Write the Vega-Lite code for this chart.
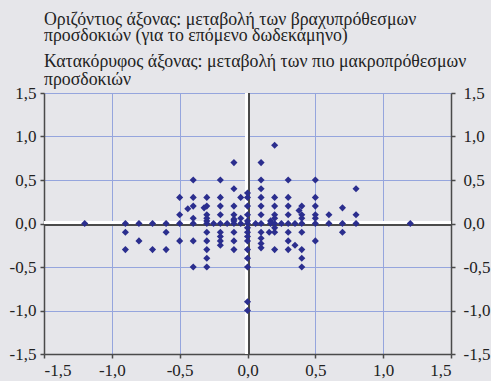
{
  "$schema": "https://vega.github.io/schema/vega-lite/v6.json",
  "width": 407,
  "height": 261,
  "autosize": "none",
  "padding": {"left": 44, "top": 93, "right": 40, "bottom": 27},
  "background": "#E6E6EA",
  "config": {
    "view": {"stroke": null, "fill": "#E6E6EA"},
    "locale": {"number": {"decimal": ",", "thousands": ".", "grouping": [3], "currency": ["", " €"], "minus": "-"}},
    "axis": {
      "labelFont": "Liberation Serif",
      "labelFontSize": 17,
      "labelColor": "#222222",
      "domainColor": "#4A4A4A",
      "domainWidth": 1.5,
      "tickColor": "#4A4A4A",
      "tickWidth": 1.5,
      "tickSize": 4,
      "gridColor": "#95A5DD",
      "gridWidth": 1,
      "gridOpacity": 1,
      "title": null
    }
  },
  "title": {
    "text": ["Οριζόντιος άξονας: μεταβολή των βραχυπρόθεσμων", "προσδοκιών (για το επόμενο δωδεκάμηνο)"],
    "subtitle": ["Κατακόρυφος άξονας: μεταβολή των πιο μακροπρόθεσμων", "προσδοκιών"],
    "anchor": "start",
    "frame": "group",
    "font": "Liberation Serif",
    "fontSize": 17.8,
    "fontWeight": "normal",
    "color": "#222222",
    "lineHeight": 16.5,
    "subtitleFont": "Liberation Serif",
    "subtitleFontSize": 17.8,
    "subtitleColor": "#222222",
    "subtitleLineHeight": 18,
    "subtitlePadding": 8,
    "offset": -5
  },
  "data": {
    "values": [
      {"x": -1.2, "y": 0}, {"x": -0.9, "y": 0}, {"x": -0.8, "y": 0}, {"x": -0.7, "y": 0}, {"x": -0.6, "y": 0},
      {"x": -0.5, "y": 0}, {"x": -0.4, "y": 0}, {"x": -0.3, "y": 0}, {"x": -0.25, "y": 0}, {"x": -0.2, "y": 0},
      {"x": -0.15, "y": 0}, {"x": -0.1, "y": 0}, {"x": -0.05, "y": 0}, {"x": 0, "y": 0}, {"x": 0.06, "y": 0},
      {"x": 0.1, "y": 0}, {"x": 0.17, "y": 0}, {"x": 0.2, "y": 0}, {"x": 0.25, "y": 0}, {"x": 0.3, "y": 0},
      {"x": 0.35, "y": 0}, {"x": 0.4, "y": 0}, {"x": 0.5, "y": 0}, {"x": 0.6, "y": 0}, {"x": 0.7, "y": 0},
      {"x": 0.8, "y": 0}, {"x": 1.2, "y": 0},
      {"x": 0, "y": 0.03}, {"x": 0, "y": -0.05}, {"x": -0.1, "y": 0.03}, {"x": 0.17, "y": 0.03}, {"x": -0.3, "y": 0.03},
      {"x": -0.9, "y": -0.1}, {"x": -0.6, "y": -0.1}, {"x": -0.3, "y": -0.1}, {"x": -0.2, "y": -0.1}, {"x": -0.1, "y": -0.1},
      {"x": 0, "y": -0.1}, {"x": 0.1, "y": -0.1}, {"x": 0.16, "y": -0.1}, {"x": 0.2, "y": -0.1}, {"x": 0.2, "y": -0.05},
      {"x": 0.3, "y": -0.1}, {"x": 0.4, "y": -0.1}, {"x": 0.7, "y": -0.1},
      {"x": -0.2, "y": -0.15}, {"x": 0, "y": -0.15}, {"x": 0.1, "y": -0.17},
      {"x": -0.8, "y": -0.2}, {"x": -0.5, "y": -0.2}, {"x": -0.4, "y": -0.2}, {"x": -0.3, "y": -0.2}, {"x": -0.2, "y": -0.2},
      {"x": -0.1, "y": -0.2}, {"x": 0, "y": -0.2}, {"x": 0.1, "y": -0.23}, {"x": 0.3, "y": -0.2}, {"x": 0.5, "y": -0.2},
      {"x": -0.2, "y": -0.25}, {"x": 0.1, "y": -0.28}, {"x": 0.35, "y": -0.25},
      {"x": -0.9, "y": -0.3}, {"x": -0.7, "y": -0.3}, {"x": -0.6, "y": -0.3}, {"x": -0.3, "y": -0.3}, {"x": -0.1, "y": -0.3},
      {"x": 0, "y": -0.3}, {"x": 0.2, "y": -0.3}, {"x": 0.3, "y": -0.3}, {"x": 0.4, "y": -0.3},
      {"x": -0.3, "y": -0.4}, {"x": 0, "y": -0.4}, {"x": 0.4, "y": -0.4},
      {"x": -0.4, "y": -0.5}, {"x": -0.3, "y": -0.5}, {"x": 0, "y": -0.5}, {"x": 0.4, "y": -0.5},
      {"x": 0, "y": -0.9}, {"x": 0, "y": -1.0},
      {"x": 0.2, "y": 0.9}, {"x": -0.1, "y": 0.7}, {"x": 0.1, "y": 0.7},
      {"x": -0.4, "y": 0.5}, {"x": -0.2, "y": 0.5}, {"x": 0.1, "y": 0.5}, {"x": 0.3, "y": 0.5}, {"x": 0.5, "y": 0.5},
      {"x": -0.1, "y": 0.4}, {"x": 0.1, "y": 0.4}, {"x": 0.8, "y": 0.4}, {"x": 0, "y": 0.35},
      {"x": -0.5, "y": 0.3}, {"x": -0.4, "y": 0.3}, {"x": -0.3, "y": 0.3}, {"x": -0.2, "y": 0.3}, {"x": -0.05, "y": 0.3},
      {"x": 0, "y": 0.3}, {"x": 0.1, "y": 0.3}, {"x": 0.2, "y": 0.3}, {"x": 0.3, "y": 0.3}, {"x": 0.5, "y": 0.3},
      {"x": -0.4, "y": 0.2}, {"x": -0.3, "y": 0.2}, {"x": -0.2, "y": 0.2}, {"x": -0.1, "y": 0.2}, {"x": 0, "y": 0.2},
      {"x": 0.1, "y": 0.2}, {"x": 0.2, "y": 0.2}, {"x": 0.3, "y": 0.2}, {"x": 0.4, "y": 0.2}, {"x": 0.5, "y": 0.2},
      {"x": -0.44, "y": 0.17}, {"x": -0.32, "y": 0.18}, {"x": 0.7, "y": 0.18}, {"x": 0.38, "y": 0.15},
      {"x": -0.5, "y": 0.1}, {"x": -0.3, "y": 0.1}, {"x": -0.2, "y": 0.1}, {"x": -0.1, "y": 0.1}, {"x": 0, "y": 0.1},
      {"x": 0.1, "y": 0.1}, {"x": 0.2, "y": 0.1}, {"x": 0.3, "y": 0.1}, {"x": 0.4, "y": 0.1}, {"x": 0.5, "y": 0.1},
      {"x": 0.6, "y": 0.1}, {"x": 0.8, "y": 0.1},
      {"x": -0.4, "y": 0.06}, {"x": -0.3, "y": 0.06}, {"x": -0.05, "y": 0.06}, {"x": 0.2, "y": 0.06}, {"x": 0.4, "y": 0.06},
      {"x": 0.5, "y": 0.06}, {"x": -0.1, "y": 0.05}
    ]
  },
  "resolve": {"axis": {"y": "independent"}},
  "layer": [
    {
      "mark": {"type": "rule", "color": "#4A4A4A", "strokeWidth": 1.5, "yOffset": 1.2},
      "encoding": {
        "y": {"datum": 0, "type": "quantitative", "scale": {"domain": [-1.5, 1.5], "nice": false, "zero": false},
          "axis": {"orient": "left", "values": [-1.5, -1, -0.5, 0, 0.5, 1, 1.5], "format": ".1f", "grid": true, "labelPadding": 4}}
      }
    },
    {
      "mark": {"type": "rule", "color": "#FFFFFF", "strokeWidth": 2.5, "yOffset": -0.8},
      "encoding": {
        "y": {"datum": 0, "type": "quantitative", "scale": {"domain": [-1.5, 1.5], "nice": false, "zero": false},
          "axis": {"orient": "right", "values": [-1.5, -1, -0.5, 0, 0.5, 1, 1.5], "format": ".1f", "grid": false, "labelPadding": 8}}
      }
    },
    {
      "mark": {"type": "rule", "color": "#4A4A4A", "strokeWidth": 1.5, "xOffset": 1.2},
      "encoding": {
        "x": {"datum": 0, "type": "quantitative", "scale": {"domain": [-1.5, 1.5], "nice": false, "zero": false}}
      }
    },
    {
      "mark": {"type": "rule", "color": "#FFFFFF", "strokeWidth": 2.5, "xOffset": -0.8},
      "encoding": {
        "x": {"datum": 0, "type": "quantitative", "scale": {"domain": [-1.5, 1.5], "nice": false, "zero": false}}
      }
    },
    {
      "mark": {"type": "point", "shape": "diamond", "filled": true, "color": "#2B2E8E", "size": 50, "opacity": 1},
      "encoding": {
        "x": {"field": "x", "type": "quantitative", "scale": {"domain": [-1.5, 1.5], "nice": false, "zero": false},
          "axis": {"orient": "bottom", "values": [-1.5, -1, -0.5, 0, 0.5, 1, 1.5], "format": ".1f", "grid": true, "labelPadding": 4}},
        "y": {"field": "y", "type": "quantitative", "scale": {"domain": [-1.5, 1.5], "nice": false, "zero": false}, "axis": null}
      }
    }
  ]
}
